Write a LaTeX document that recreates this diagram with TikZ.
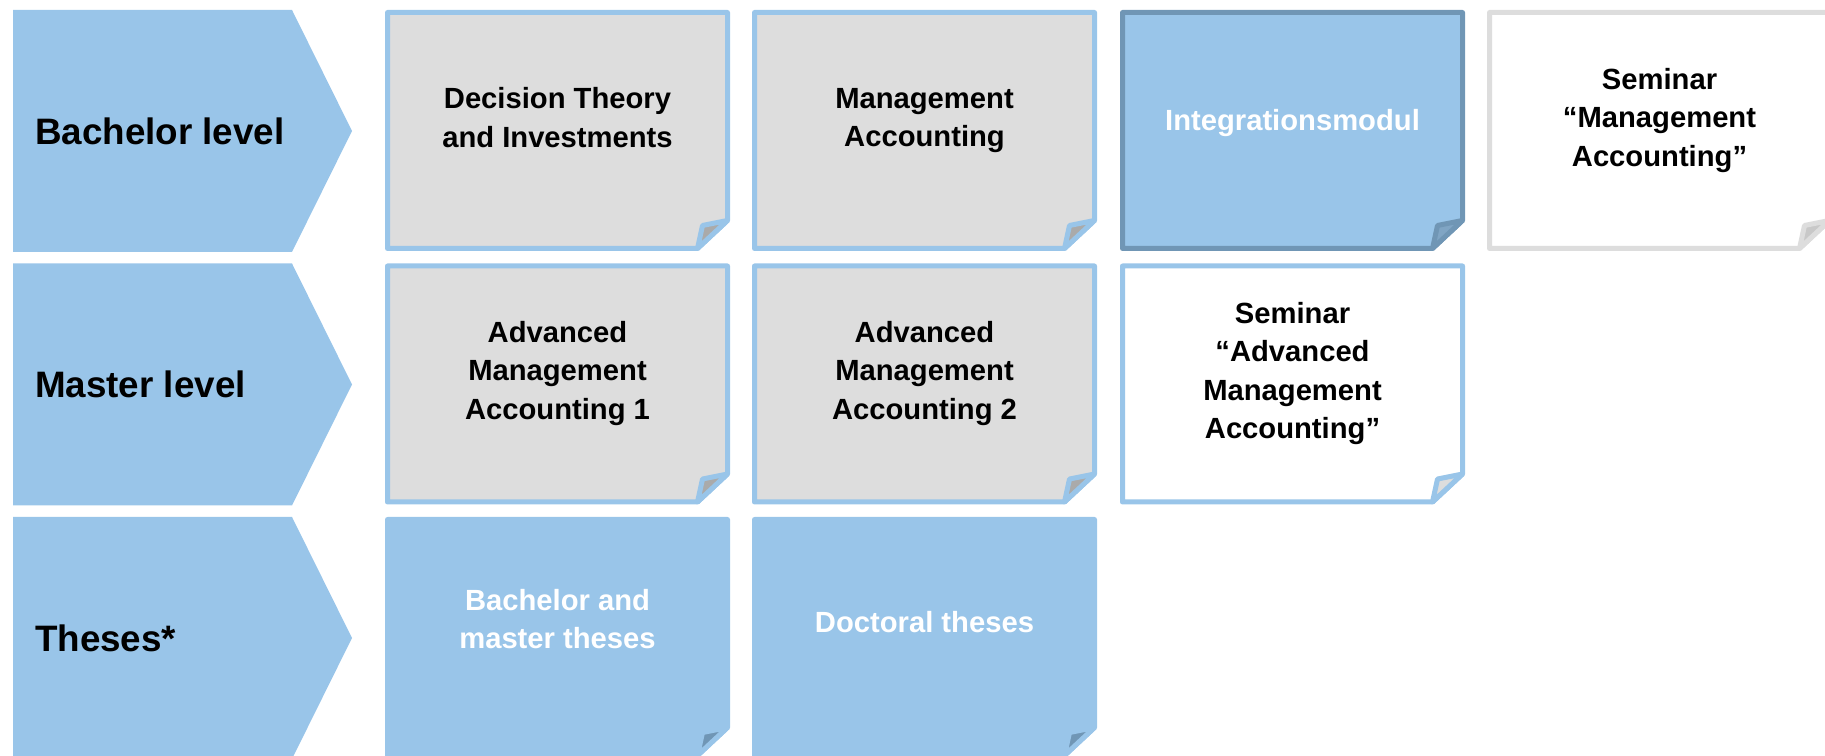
\documentclass[tikz,border=0pt]{standalone}
\usepackage{fontspec}
\setmainfont{Liberation Sans}
\usetikzlibrary{positioning}

\definecolor{lightblue}{RGB}{153,197,233}
\definecolor{cardgrey}{RGB}{221,221,221}
\definecolor{flapgrey}{RGB}{170,170,170}
\definecolor{semflap}{RGB}{200,200,200}
\definecolor{steelblue}{RGB}{112,150,181}
\definecolor{flapblue}{RGB}{128,165,196}

\tikzset{
  levelbox/.style={fill=lightblue},
  leveltext/.style={anchor=west, font=\fontsize{18.4}{22}\selectfont\bfseries},
  cardtext/.style={align=center, font=\fontsize{14.6}{19.2}\selectfont\bfseries,
    execute at begin node=\strut, execute at end node=\strut},
  greycard/.style={fill=cardgrey, draw=lightblue},
  intcard/.style={fill=lightblue, draw=steelblue},
  semgrey/.style={fill=white, draw=cardgrey},
  semblue/.style={fill=white, draw=lightblue},
  thesiscard/.style={fill=lightblue, draw=lightblue}
}

% card with folded lower right corner: #1 lower left, #2 style, #3 colour of the flap
\newcommand{\notecard}[3]{
  \draw[line width=2.5pt, line join=round, #2] #1 -- ++(0,236) -- ++(340,0) -- ++(0,-208) -- ++(-30,-28) -- cycle;
  \draw[line width=2.5pt, line join=round, #2, fill=#3] #1 ++(340,28) -- ++(-25,-5) -- ++(-5,-23) -- cycle;
}

\begin{document}
\begin{tikzpicture}[x=0.5pt,y=0.5pt]
\useasboundingbox (0,0) rectangle (1825,755);
%level arrows on the left
\fill[levelbox] (13,503) -- (13,745) -- (292,745) -- (352,624) -- (292,503) -- cycle;
\fill[levelbox] (13,249.5) -- (13,491.5) -- (292,491.5) -- (352,370.5) -- (292,249.5) -- cycle;
\fill[levelbox] (13,-4) -- (13,238) -- (292,238) -- (352,117) -- (292,-4) -- cycle;
\node[leveltext] (bachelor) at (28,624) {Bachelor level};
\node[leveltext] (master) at (28,370.5) {Master level};
\node[leveltext] (theses) at (28,117) {Theses*};
%bachelor row
\notecard{(387.5,506.5)}{greycard}{flapgrey}
\notecard{(754.5,506.5)}{greycard}{flapgrey}
\notecard{(1122.5,506.5)}{intcard}{flapblue}
\notecard{(1489.5,506.5)}{semgrey}{semflap}
\node[cardtext] (dti) at (557.5,632) {Decision Theory\\and Investments};
\node[cardtext] (ma) at (924.5,632) {Management\\Accounting};
\node[cardtext, text=white] (intmod) at (1292.5,632) {Integrationsmodul};
\node[cardtext] (semma) at (1659.5,632) {Seminar\\``Management\\Accounting''};
%master row
\notecard{(387.5,253)}{greycard}{flapgrey}
\notecard{(754.5,253)}{greycard}{flapgrey}
\notecard{(1122.5,253)}{semblue}{cardgrey}
\node[cardtext] (ama1) at (557.5,379) {Advanced\\Management\\Accounting 1};
\node[cardtext] (ama2) at (924.5,379) {Advanced\\Management\\Accounting 2};
\node[cardtext] (semama) at (1292.5,379) {Seminar\\``Advanced\\Management\\Accounting''};
%theses row
\notecard{(387.5,-0.5)}{thesiscard}{steelblue}
\notecard{(754.5,-0.5)}{thesiscard}{steelblue}
\node[cardtext, text=white] (bmt) at (557.5,130.5) {Bachelor and\\master theses};
\node[cardtext, text=white] (dt) at (924.5,130.5) {Doctoral theses};
\end{tikzpicture}
\end{document}
